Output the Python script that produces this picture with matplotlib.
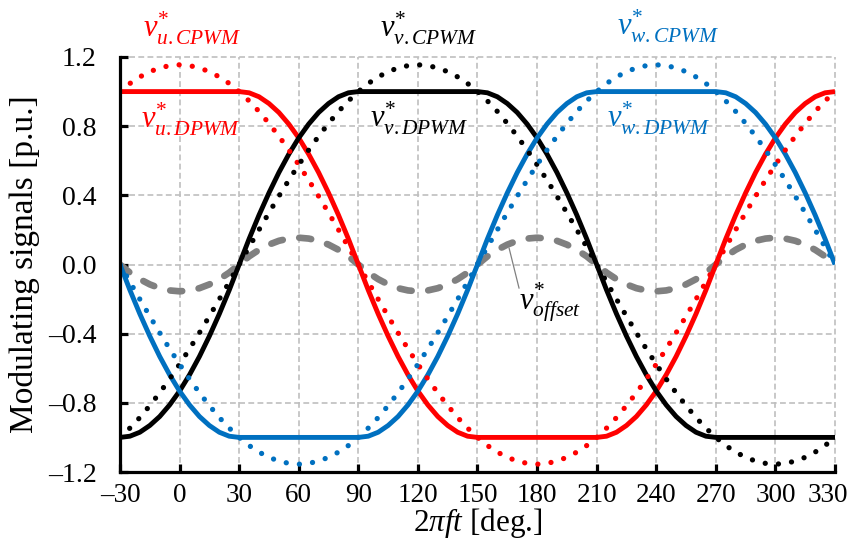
import matplotlib
matplotlib.use("Agg")
import matplotlib.pyplot as plt
from matplotlib.ticker import FuncFormatter
from matplotlib.transforms import ScaledTranslation

plt.rcParams['font.family'] = ['Liberation Serif', 'DejaVu Serif']
plt.rcParams['mathtext.fontset'] = 'custom'
plt.rcParams['mathtext.rm'] = 'Liberation Serif'
plt.rcParams['mathtext.it'] = 'Liberation Serif:italic'
plt.rcParams['mathtext.bf'] = 'Liberation Serif:bold'

# ---- data (5 deg steps, -30 .. 330) ----
theta = list(range(-30, 331, 5))

u_cpwm = [1.000, 1.047, 1.085, 1.115, 1.137, 1.150,
          1.155, 1.150, 1.137, 1.115, 1.085, 1.047, 1.000, 0.946, 0.885, 0.816,
          0.742, 0.662, 0.577, 0.488, 0.395, 0.299, 0.201, 0.101, 0.000,
          -0.101, -0.201, -0.299, -0.395, -0.488, -0.577, -0.662, -0.742, -0.816,
          -0.885, -0.946, -1.000, -1.047, -1.085, -1.115, -1.137, -1.150,
          -1.155, -1.150, -1.137, -1.115, -1.085, -1.047, -1.000, -0.946, -0.885,
          -0.816, -0.742, -0.662, -0.577, -0.488, -0.395, -0.299, -0.201, -0.101,
          0.000, 0.101, 0.201, 0.299, 0.395, 0.488, 0.577, 0.662, 0.742, 0.816,
          0.885, 0.946, 1.000]
v_cpwm = [-1.000, -0.946, -0.885, -0.816, -0.742, -0.662, -0.577, -0.488, -0.395,
          -0.299, -0.201, -0.101, 0.000, 0.101, 0.201, 0.299, 0.395, 0.488, 0.577,
          0.662, 0.742, 0.816, 0.885, 0.946,
          1.000, 1.047, 1.085, 1.115, 1.137, 1.150, 1.155, 1.150, 1.137, 1.115,
          1.085, 1.047, 1.000, 0.946, 0.885, 0.816, 0.742, 0.662, 0.577, 0.488,
          0.395, 0.299, 0.201, 0.101, 0.000, -0.101, -0.201, -0.299, -0.395,
          -0.488, -0.577, -0.662, -0.742, -0.816, -0.885, -0.946, -1.000, -1.047,
          -1.085, -1.115, -1.137, -1.150, -1.155, -1.150, -1.137, -1.115, -1.085,
          -1.047, -1.000]
w_cpwm = [0.000, -0.101, -0.201, -0.299, -0.395, -0.488, -0.577, -0.662, -0.742,
          -0.816, -0.885, -0.946, -1.000, -1.047, -1.085, -1.115, -1.137, -1.150,
          -1.155, -1.150, -1.137, -1.115, -1.085, -1.047, -1.000, -0.946, -0.885,
          -0.816, -0.742, -0.662, -0.577, -0.488, -0.395, -0.299, -0.201, -0.101,
          0.000, 0.101, 0.201, 0.299, 0.395, 0.488, 0.577, 0.662, 0.742, 0.816,
          0.885, 0.946,
          1.000, 1.047, 1.085, 1.115, 1.137, 1.150, 1.155, 1.150, 1.137, 1.115,
          1.085, 1.047, 1.000, 0.946, 0.885, 0.816, 0.742, 0.662, 0.577, 0.488,
          0.395, 0.299, 0.201, 0.101, 0.000]
u_dpwm = [1.000, 1.000, 1.000, 1.000, 1.000, 1.000, 1.000, 1.000, 1.000, 1.000,
          1.000, 1.000, 1.000,
          0.993, 0.970, 0.931, 0.879, 0.812, 0.732, 0.638, 0.532, 0.414, 0.286,
          0.148, 0.000, -0.148, -0.286, -0.414, -0.532, -0.638, -0.732, -0.812,
          -0.879, -0.931, -0.970, -0.993,
          -1.000, -1.000, -1.000, -1.000, -1.000, -1.000, -1.000, -1.000, -1.000,
          -1.000, -1.000, -1.000, -1.000,
          -0.993, -0.970, -0.931, -0.879, -0.812, -0.732, -0.638, -0.532, -0.414,
          -0.286, -0.148, 0.000, 0.148, 0.286, 0.414, 0.532, 0.638, 0.732, 0.812,
          0.879, 0.931, 0.970, 0.993,
          1.000]
v_dpwm = [-1.000,
          -0.993, -0.970, -0.931, -0.879, -0.812, -0.732, -0.638, -0.532, -0.414,
          -0.286, -0.148, 0.000, 0.148, 0.286, 0.414, 0.532, 0.638, 0.732, 0.812,
          0.879, 0.931, 0.970, 0.993,
          1.000, 1.000, 1.000, 1.000, 1.000, 1.000, 1.000, 1.000, 1.000, 1.000,
          1.000, 1.000, 1.000,
          0.993, 0.970, 0.931, 0.879, 0.812, 0.732, 0.638, 0.532, 0.414, 0.286,
          0.148, 0.000, -0.148, -0.286, -0.414, -0.532, -0.638, -0.732, -0.812,
          -0.879, -0.931, -0.970, -0.993,
          -1.000, -1.000, -1.000, -1.000, -1.000, -1.000, -1.000, -1.000, -1.000,
          -1.000, -1.000, -1.000, -1.000]
w_dpwm = [0.000, -0.148, -0.286, -0.414, -0.532, -0.638, -0.732, -0.812, -0.879,
          -0.931, -0.970, -0.993,
          -1.000, -1.000, -1.000, -1.000, -1.000, -1.000, -1.000, -1.000, -1.000,
          -1.000, -1.000, -1.000, -1.000,
          -0.993, -0.970, -0.931, -0.879, -0.812, -0.732, -0.638, -0.532, -0.414,
          -0.286, -0.148, 0.000, 0.148, 0.286, 0.414, 0.532, 0.638, 0.732, 0.812,
          0.879, 0.931, 0.970, 0.993,
          1.000, 1.000, 1.000, 1.000, 1.000, 1.000, 1.000, 1.000, 1.000, 1.000,
          1.000, 1.000, 1.000,
          0.993, 0.970, 0.931, 0.879, 0.812, 0.732, 0.638, 0.532, 0.414, 0.286,
          0.148, 0.000]
v_offset = [0.000, -0.047, -0.085, -0.115, -0.137, -0.150, -0.155, -0.150, -0.137,
            -0.115, -0.085, -0.047, 0.000, 0.047, 0.085, 0.115, 0.137, 0.150, 0.155,
            0.150, 0.137, 0.115, 0.085, 0.047,
            0.000, -0.047, -0.085, -0.115, -0.137, -0.150, -0.155, -0.150, -0.137,
            -0.115, -0.085, -0.047, 0.000, 0.047, 0.085, 0.115, 0.137, 0.150, 0.155,
            0.150, 0.137, 0.115, 0.085, 0.047,
            0.000, -0.047, -0.085, -0.115, -0.137, -0.150, -0.155, -0.150, -0.137,
            -0.115, -0.085, -0.047, 0.000, 0.047, 0.085, 0.115, 0.137, 0.150, 0.155,
            0.150, 0.137, 0.115, 0.085, 0.047,
            0.000]

x_ticks = [-30, 0, 30, 60, 90, 120, 150, 180, 210, 240, 270, 300, 330]
y_ticks = [-1.2, -0.8, -0.4, 0.0, 0.4, 0.8, 1.2]

RED = '#FF0000'
BLACK = '#000000'
BLUE = '#0070C0'
GRAY = '#808080'

fig = plt.figure(figsize=(8.53, 5.49), dpi=100)
ax = fig.add_axes([120/853, 77/549, 715/853, 415/549])

# offset (dashed gray)
ax.plot(theta, v_offset, color=GRAY, lw=4.8, linestyle=(0, (1.8, 2.5)),
        dash_capstyle='round', zorder=2)

# DPWM (solid)
for vals, c in [(u_dpwm, RED), (v_dpwm, BLACK), (w_dpwm, BLUE)]:
    ax.plot(theta, vals, color=c, lw=3.5, solid_capstyle='butt', zorder=3)

# CPWM (dotted)
for vals, c in [(u_cpwm, RED), (v_cpwm, BLACK), (w_cpwm, BLUE)]:
    ax.plot(theta, vals, color=c, lw=3.8, linestyle=(0, (0.01, 2.5)),
            dash_capstyle='round', zorder=4)

ax.set_xlim(-30, 330)
ax.set_ylim(-1.2, 1.2)
ax.set_xticks(x_ticks)
ax.set_yticks(y_ticks)

def fmt_x(v, pos):
    return f"{v:.0f}".replace('-', '\u2013')

def fmt_y(v, pos):
    s = f"{v:.1f}"
    if s == '-0.0':
        s = '0.0'
    return s.replace('-', '\u2013')

ax.xaxis.set_major_formatter(FuncFormatter(fmt_x))
ax.yaxis.set_major_formatter(FuncFormatter(fmt_y))

ax.grid(True, color='#BFBFBF', lw=1.2, linestyle=(0, (3.5, 2.0)), zorder=0)
for gl in ax.get_xgridlines() + ax.get_ygridlines():
    gl.set_clip_on(False)
ax.set_axisbelow(True)

for s in ['top', 'right']:
    ax.spines[s].set_visible(False)
for s in ['left', 'bottom']:
    ax.spines[s].set_linewidth(2.3)
    ax.spines[s].set_zorder(5)

ax.tick_params(axis='both', direction='in', length=6, width=2.3)
ax.tick_params(axis='x', pad=8, labelsize=19.5)
ax.tick_params(axis='y', pad=17, labelsize=20)

# the last x tick label sits slightly inward, as in the reference
last = ax.xaxis.get_major_ticks()[-1].label1
last.set_transform(last.get_transform() + ScaledTranslation(-7/100, 0, fig.dpi_scale_trans))

ax.set_xlabel(r"$2\pi ft$ [deg.]", fontsize=22.5)
ax.set_ylabel("Modulating signals [p.u.]", fontsize=24)
ax.xaxis.set_label_coords(0.5, -0.082)
ax.yaxis.set_label_coords(-0.112, 0.5)

lab_fs = 22
ax.text(-18.5, 1.31, r"$v^{*}_{u{.}CPWM}$", color=RED, fontsize=lab_fs, clip_on=False)
ax.text(101.0, 1.31, r"$v^{*}_{v{.}CPWM}$", color=BLACK, fontsize=lab_fs, clip_on=False)
ax.text(220.0, 1.327, r"$v^{*}_{w{.}CPWM}$", color=BLUE, fontsize=lab_fs, clip_on=False)
ax.text(-19.5, 0.784, r"$v^{*}_{u{.}DPWM}$", color=RED, fontsize=lab_fs, zorder=6)
ax.text(96.0, 0.79, r"$v^{*}_{v{.}DPWM}$", color=BLACK, fontsize=lab_fs, zorder=6)
ax.text(215.0, 0.79, r"$v^{*}_{w{.}DPWM}$", color=BLUE, fontsize=lab_fs, zorder=6)
ax.text(171.0, -0.263, r"$v^{*}_{offset}$", color=BLACK, fontsize=lab_fs, zorder=6)
ax.plot([165.9, 170.9], [0.095, -0.136], color=GRAY, lw=0.9, zorder=5)

fig.savefig("out.png", dpi=100)
